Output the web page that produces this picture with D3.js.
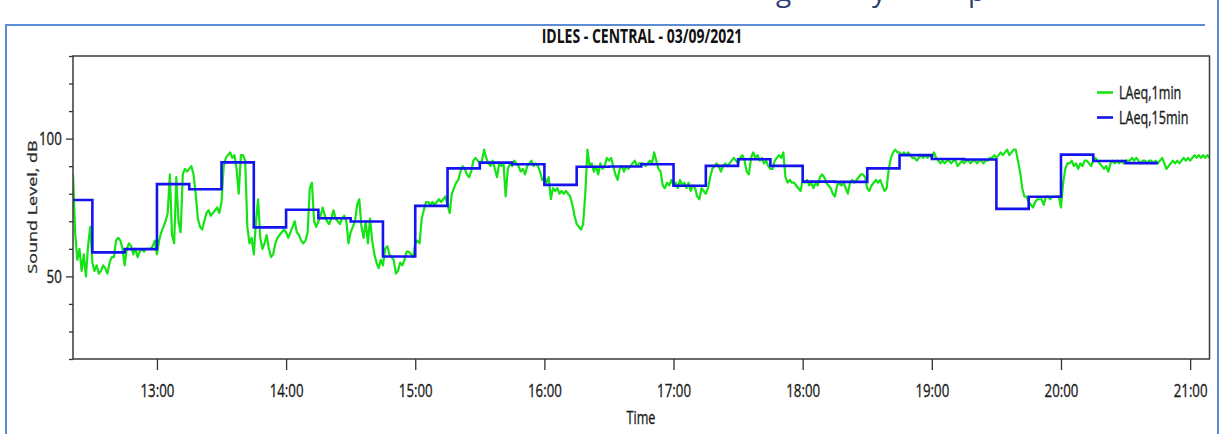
<!DOCTYPE html>
<html>
<head>
<meta charset="utf-8">
<title>IDLES - CENTRAL - 03/09/2021</title>
<script src="https://cdn.jsdelivr.net/npm/d3@7"></script>
<style>
  body { margin: 0; background: #fff; }
  svg { display: block; font-family: "Open Sans", "Noto Sans", sans-serif; }
  .lbl { stroke: #1a1a1a; stroke-width: 0.35px; }
</style>
</head>
<body>
<script>
// Values
var chartTitle = "IDLES - CENTRAL - 03/09/2021";
var day = "2021-09-03";
var startTime = "12:21";
var endTime = "21:09";

// LAeq,1min - one value per minute from 12:21
var laeq1min = [
  87,66,56,60,52,58,50,61,68,55, 52,54,51,52,54,53,51,55,57,57,
  63,64,63,60,54,60,62,61,58,60, 57,59,60,59,60,60,60,61,63,58,
  63,66,68,70,73,87,65,62,86,70, 66,87,89,88,89,90,87,80,71,68,
  67,70,73,74,72,73,74,75,73,77, 90,93,94,95,93,94,89,80,94,94,
  92,68,62,64,58,70,78,64,60,62, 65,60,57,58,62,64,65,66,67,66,
  64,66,68,70,66,65,63,62,63,66, 82,84,70,68,70,72,75,72,70,69,
  71,74,71,70,69,71,72,70,62,66, 68,70,76,78,68,64,70,62,71,63,
  58,55,53,56,54,60,61,58,57,56, 51,52,55,54,56,59,59,58,57,62,
  63,62,71,74,77,77,76,77,76,77, 78,77,78,79,76,73,80,82,84,85,
  88,90,89,87,86,88,92,93,92,91, 92,96,93,91,90,92,89,86,91,90,
  91,79,89,91,90,92,91,90,88,89, 87,90,91,92,90,91,90,88,85,86,
  84,86,78,82,81,82,80,81,80,81, 80,79,76,72,69,68,67,69,80,96,
  90,91,88,90,87,91,89,90,93,92, 93,90,87,85,89,90,88,90,89,90,
  91,92,90,91,91,91,90,91,92,91, 95,92,89,88,83,82,84,83,85,83,
  84,82,85,83,84,82,84,81,83,82, 79,78,82,81,80,82,86,89,90,91,
  90,88,90,91,90,91,92,93,92,91, 93,94,92,88,87,93,95,93,94,92,
  93,91,92,90,89,89,92,93,94,93, 95,86,84,85,84,84,83,82,81,85,
  84,85,83,84,82,84,83,86,87,86, 84,83,82,80,79,83,84,83,84,82,
  80,84,85,84,85,86,87,87,86,82, 81,83,84,85,84,85,83,81,82,89,
  93,95,96,95,95,94,95,94,95,94, 93,93,92,93,94,93,94,93,94,93,
  95,93,92,91,92,91,92,92,91,92, 92,90,91,92,91,92,92,91,92,92,
  91,92,92,91,92,92,93,93,94,93, 94,95,94,95,96,94,95,96,96,92,
  88,82,79,79,77,76,75,77,78,78, 78,76,79,79,78,79,79,79,79,75,
  84,89,91,91,92,90,91,89,91,90, 92,92,91,90,92,93,92,91,90,89,
  90,88,91,92,91,92,91,92,91,92, 92,92,93,92,93,92,91,92,92,91,
  92,92,91,92,91,92,93,91,89,90, 91,92,91,92,91,92,93,92,93,92,
  93,94,93,94,93,94,93,94,93
];

// LAeq,15min - interval start times and levels
var laeq15minTimes = [
  "12:15","12:30","12:45","13:00","13:15","13:30","13:45","14:00","14:15","14:30",
  "14:45","15:00","15:15","15:30","15:45","16:00","16:15","16:30","16:45","17:00",
  "17:15","17:30","17:45","18:00","18:15","18:30","18:45","19:00","19:15","19:30",
  "19:45","20:00","20:15","20:30"
];
var laeq15minValues = [
  77.7,58.7,59.9,83.5,81.6,91.4,67.8,74.2,71.1,69.9,
  57.2,75.6,89.2,91.3,90.7,83.2,89.8,89.9,90.7,82.9,
  90.1,92.5,90.1,84.4,84.3,89.2,94.0,92.6,92.4,74.5,
  78.9,94.2,91.9,91.1
];
var laeq15minEnd = "20:45";

var yTickValues = [20, 30, 40, 50, 60, 70, 80, 90, 100, 110, 120, 130];
var yLabelValues = [50, 100];
var seriesNames = ["LAeq,1min", "LAeq,15min"];
var seriesColors = ["#14e314", "#1414ee"];

var parseTime = d3.timeParse("%Y-%m-%d %H:%M");
function at(t) { return parseTime(day + " " + t); }

// Build the series
var start = at(startTime);
var greenData = laeq1min.map(function(v, i) {
  return { time: d3.timeMinute.offset(start, i), value: v };
});
var blueData = laeq15minTimes.map(function(t, i) {
  return { time: at(t), value: laeq15minValues[i] };
});
blueData.push({ time: at(laeq15minEnd), value: laeq15minValues[laeq15minValues.length - 1] });

// Size of the page and plot area
var width = 1225, height = 434;
var plot = { left: 73, top: 56, right: 1209.5, bottom: 359 };
var squeeze = "scale(0.7,1)";

var svg = d3.select("body").append("svg")
  .attr("width", width)
  .attr("height", height);

// Frame of the surrounding document box
svg.append("line").attr("x1", 6).attr("x2", 6).attr("y1", 25).attr("y2", height)
  .attr("stroke", "#5b8cd4").attr("stroke-width", 2);
svg.append("line").attr("x1", 5).attr("x2", 1205).attr("y1", 25).attr("y2", 25)
  .attr("stroke", "#5b8cd4").attr("stroke-width", 2);
svg.append("line").attr("x1", 1218).attr("x2", 1218).attr("y1", 0).attr("y2", height)
  .attr("stroke", "#5b8cd4").attr("stroke-width", 2);

// Bits of the caption line above that are cut off in the picture
[["g", 776], ["y", 872], ["p", 968]].forEach(function(c) {
  svg.append("text")
    .attr("x", c[1]).attr("y", 1)
    .style("font-size", "28px")
    .attr("fill", "#2f4170")
    .text(c[0]);
});

// Scales
var x = d3.scaleTime()
  .domain([at(startTime), at(endTime)])
  .range([plot.left, plot.right]);
var y = d3.scaleLinear()
  .domain([20, 130])
  .range([plot.bottom, plot.top]);

// Title
svg.append("text")
  .attr("transform", "translate(642,43) " + squeeze)
  .attr("text-anchor", "middle")
  .style("font-size", "20px")
  .style("font-weight", "bold")
  .attr("fill", "#111")
  .text(chartTitle);

// Clip lines to the plot area
svg.append("clipPath").attr("id", "clip")
  .append("rect")
  .attr("x", plot.left).attr("y", plot.top)
  .attr("width", plot.right - plot.left).attr("height", plot.bottom - plot.top);

var line = d3.line()
  .x(function(d) { return x(d.time); })
  .y(function(d) { return y(d.value); });

svg.append("path")
  .datum(greenData)
  .attr("clip-path", "url(#clip)")
  .attr("fill", "none")
  .attr("stroke", seriesColors[0])
  .attr("stroke-width", 2.2)
  .attr("stroke-linejoin", "round")
  .attr("d", line);

svg.append("path")
  .datum(blueData)
  .attr("clip-path", "url(#clip)")
  .attr("fill", "none")
  .attr("stroke", seriesColors[1])
  .attr("stroke-width", 2.6)
  .attr("d", line.curve(d3.curveStepAfter));

// Plot frame
svg.append("rect")
  .attr("x", plot.left).attr("y", plot.top)
  .attr("width", plot.right - plot.left).attr("height", plot.bottom - plot.top)
  .attr("fill", "none")
  .attr("stroke", "#3a3a3a")
  .attr("stroke-width", 1.5);

// Y axis
var yAxis = svg.append("g")
  .attr("transform", "translate(" + plot.left + ",0)")
  .call(d3.axisLeft(y)
    .tickValues(yTickValues)
    .tickSizeOuter(0)
    .tickFormat(function(d) { return yLabelValues.indexOf(d) >= 0 ? d : ""; }));
yAxis.select(".domain").remove();
yAxis.selectAll(".tick line")
  .attr("x2", function(d) { return yLabelValues.indexOf(d) >= 0 ? -7 : -4; })
  .attr("stroke", "#333").attr("stroke-width", 1.3);
yAxis.selectAll(".tick text")
  .attr("class", "lbl")
  .attr("x", -16)
  .attr("transform", squeeze)
  .style("font-size", "19px")
  .style("font-family", "'Open Sans', sans-serif")
  .attr("fill", "#1a1a1a");

// X axis
var xAxis = svg.append("g")
  .attr("transform", "translate(0," + plot.bottom + ")")
  .call(d3.axisBottom(x)
    .ticks(d3.timeHour.every(1))
    .tickSize(11)
    .tickSizeOuter(0)
    .tickFormat(d3.timeFormat("%H:%M")));
xAxis.select(".domain").remove();
xAxis.selectAll(".tick line").attr("stroke", "#333").attr("stroke-width", 1.3);
xAxis.selectAll(".tick text")
  .attr("class", "lbl")
  .attr("y", 38).attr("dy", "0")
  .attr("transform", squeeze)
  .style("font-size", "19px")
  .style("font-family", "'Open Sans', sans-serif")
  .attr("fill", "#1a1a1a");

// Axis titles
svg.append("text")
  .attr("class", "lbl")
  .attr("transform", "translate(641,424) " + squeeze)
  .attr("text-anchor", "middle")
  .style("font-size", "18px")
  .attr("fill", "#1a1a1a")
  .text("Time");

svg.append("text")
  .attr("class", "lbl")
  .attr("transform", "translate(37,207) rotate(-90) scale(1,0.7)")
  .attr("text-anchor", "middle")
  .style("font-size", "18px")
  .attr("fill", "#333")
  .text("Sound Level, dB");

// Legend
var legend = svg.append("g");
seriesNames.forEach(function(name, i) {
  var ly = 92.5 + i * 25;
  legend.append("line")
    .attr("x1", 1097).attr("x2", 1113)
    .attr("y1", ly).attr("y2", ly)
    .attr("stroke", seriesColors[i])
    .attr("stroke-width", 2.6);
  legend.append("text")
    .attr("class", "lbl")
    .attr("transform", "translate(1119," + (ly + 6.5) + ") " + squeeze)
    .style("font-size", "18px")
    .attr("fill", "#1a1a1a")
    .text(name);
});
</script>
</body>
</html>
